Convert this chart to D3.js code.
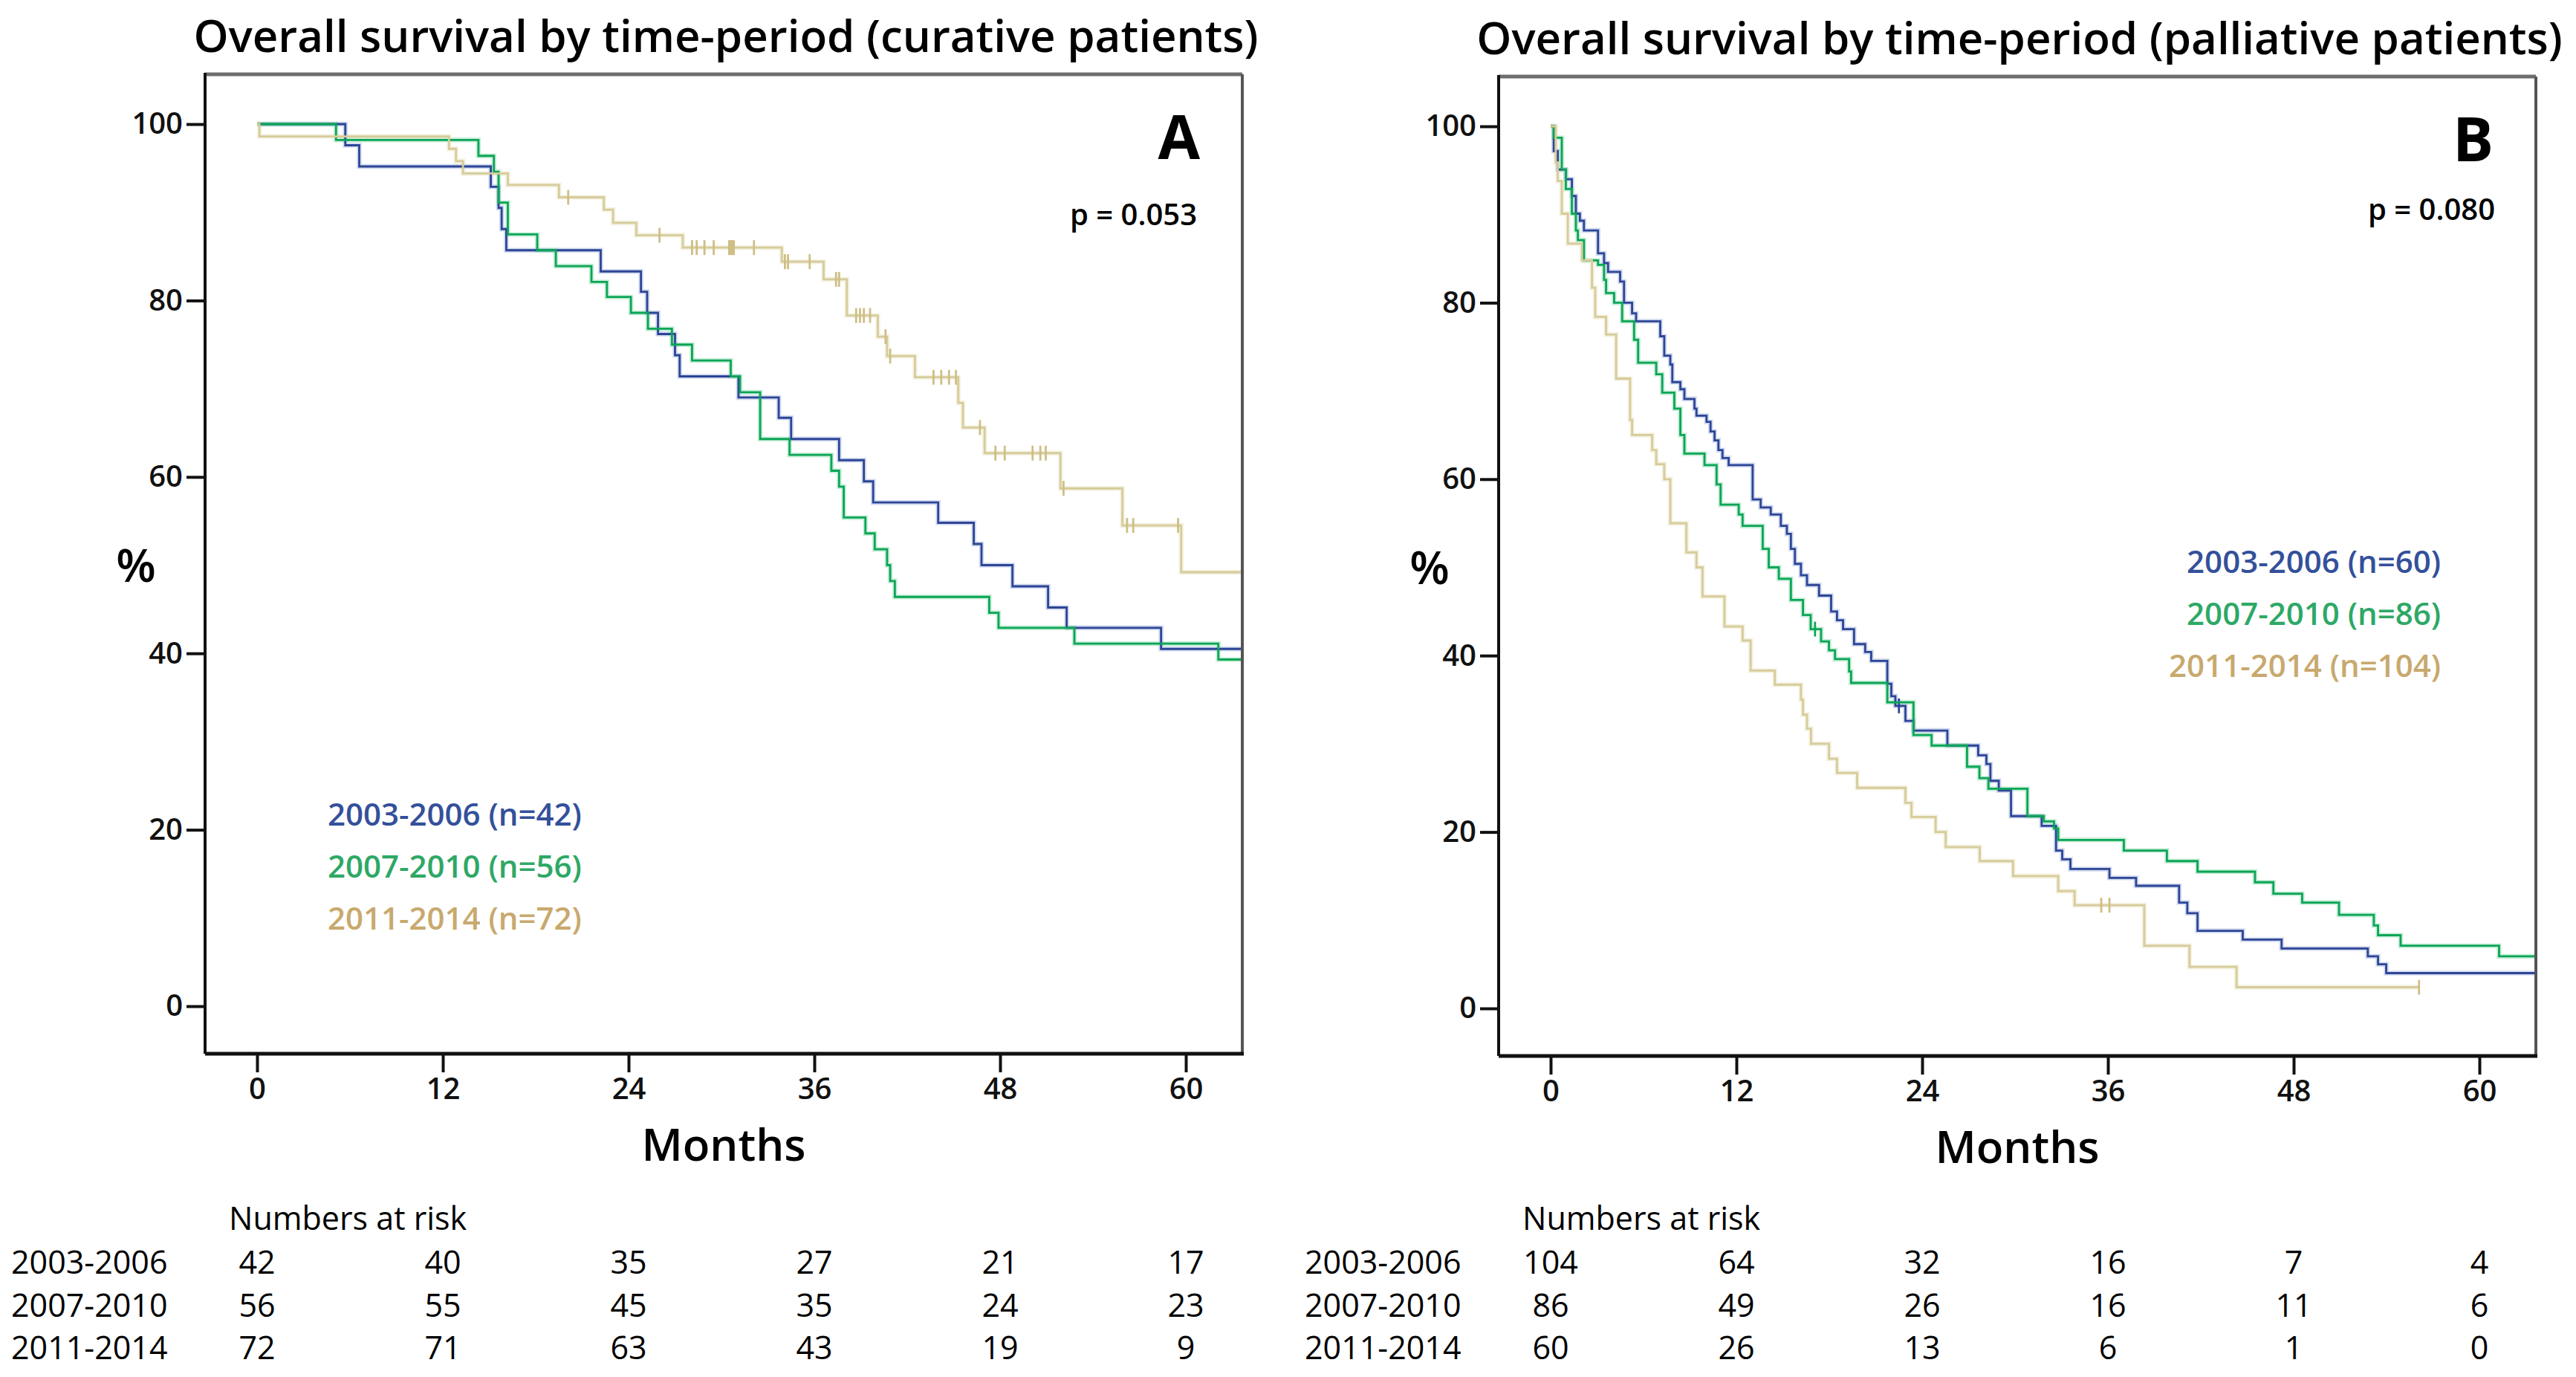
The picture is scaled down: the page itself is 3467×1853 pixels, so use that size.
<!DOCTYPE html>
<html>
<head>
<meta charset="utf-8">
<script src="https://cdn.jsdelivr.net/npm/d3@7"></script>
<style>
  body { margin: 0; background: #fff; }
  text { font-family: "Open Sans", sans-serif; }
</style>
</head>
<body>
<svg id="chart" width="3467" height="1853"></svg>
<script>
// ---- data ----
const monthTicks = [0, 12, 24, 36, 48, 60];
const percentTicks = [0, 20, 40, 60, 80, 100];
const periods = ["2003-2006", "2007-2010", "2011-2014"];

const titleA = "Overall survival by time-period (curative patients)";
const titleB = "Overall survival by time-period (palliative patients)";
const pValueA = "p = 0.053";
const pValueB = "p = 0.080";
const legendA = ["2003-2006 (n=42)", "2007-2010 (n=56)", "2011-2014 (n=72)"];
const legendB = ["2003-2006 (n=60)", "2007-2010 (n=86)", "2011-2014 (n=104)"];

// numbers at risk, one row per period, one value per month tick
const riskA = [[42, 40, 35, 27, 21, 17], [56, 55, 45, 35, 24, 23], [72, 71, 63, 43, 19, 9]];
const riskB = [[104, 64, 32, 16, 7, 4], [86, 49, 26, 16, 11, 6], [60, 26, 13, 6, 1, 0]];

// Kaplan-Meier steps: [month, survival %]
const survA1 = [[0, 100], [5.7, 97.6], [6.6, 95.2], [15.1, 92.9], [15.6, 90.5], [15.8, 88.1], [16.1, 85.7],
  [22.2, 83.3], [24.8, 81.0], [25.2, 78.6], [25.9, 76.2], [27.0, 73.8], [27.3, 71.4], [31.1, 69.0],
  [33.7, 66.7], [34.5, 64.3], [37.6, 61.9], [39.2, 59.5], [39.8, 57.1], [44.0, 54.8], [46.3, 52.4],
  [46.8, 50.0], [48.8, 47.6], [51.1, 45.2], [52.3, 42.9], [58.4, 40.5]];
const survA2 = [[0, 100], [5.1, 98.2], [14.3, 96.4], [15.3, 94.6], [15.6, 91.1], [16.2, 87.5], [18.1, 85.7],
  [19.3, 83.9], [21.6, 82.1], [22.6, 80.4], [24.15, 78.6], [25.25, 76.8], [26.8, 75.0], [28.1, 73.2],
  [30.6, 71.4], [31.2, 69.6], [32.5, 64.3], [34.4, 62.5], [37.1, 60.7], [37.6, 58.9], [37.9, 55.4],
  [39.3, 53.6], [39.9, 51.8], [40.7, 50.0], [40.9, 48.2], [41.2, 46.4], [47.3, 44.6], [47.9, 42.9],
  [52.8, 41.1], [62.1, 39.3]];
const survA3 = [[0, 100], [0.15, 98.6], [12.4, 97.2], [12.85, 95.8], [13.3, 94.4], [16.2, 93.1], [19.5, 91.7],
  [22.4, 90.3], [23.0, 88.8], [24.5, 87.4], [27.5, 86.0], [33.9, 84.4], [36.6, 82.4], [38.1, 78.3],
  [40.1, 75.9], [40.7, 73.7], [42.5, 71.3], [45.3, 68.4], [45.6, 65.6], [47.0, 62.7], [51.9, 58.7],
  [55.9, 54.5], [59.7, 49.2]];
const censA3 = [20.1, 26.0, 28.1, 28.4, 28.9, 29.5, 30.5, 30.6, 30.7, 30.8, 32.1, 34.1, 34.3, 35.7,
  37.4, 37.6, 38.7, 38.95, 39.2, 39.6, 40.6, 40.9, 43.7, 44.2, 44.7, 45.15, 46.7, 47.7, 48.3, 50.1,
  50.6, 50.95, 52.1, 56.2, 56.6, 59.5];

const survB1 = [[0, 100], [0.2, 97.2], [0.46, 95.1], [0.98, 94.0], [1.37, 92.1], [1.63, 90.1], [1.89, 89.3],
  [2.15, 88.2], [3.06, 85.6], [3.45, 84.5], [3.71, 83.5], [4.49, 82.4], [4.74, 80.0], [5.26, 78.8],
  [5.52, 77.9], [7.08, 76.2], [7.34, 74.0], [7.73, 73.0], [7.86, 71.0], [8.38, 70.2], [8.64, 69.1],
  [9.29, 68.0], [9.42, 67.2], [10.07, 66.5], [10.33, 65.4], [10.59, 64.4], [10.84, 63.3], [11.1, 62.4],
  [11.5, 61.6], [13.05, 57.7], [13.57, 56.8], [14.22, 56.0], [14.87, 54.7], [15.26, 53.8], [15.52, 52.1],
  [15.78, 50.4], [16.17, 49.1], [16.56, 48.0], [17.34, 46.8], [18.12, 45.0], [18.5, 44.0], [18.89, 43.0],
  [19.6, 41.3], [20.32, 40.4], [20.71, 39.4], [21.75, 36.8], [22.01, 35.4], [22.27, 34.3], [22.92, 32.6],
  [23.44, 31.5], [25.63, 29.8], [27.62, 28.7], [28.15, 27.7], [28.41, 25.8], [28.95, 24.7], [29.74, 21.8],
  [31.72, 20.7], [32.65, 17.9], [33.05, 16.9], [33.58, 15.8], [36.1, 14.8], [37.82, 13.9], [40.6, 12.0],
  [41.13, 10.8], [41.79, 8.8], [44.71, 7.8], [47.22, 6.8], [52.79, 5.9], [53.45, 5.0], [53.98, 4.0]];
const censB1 = [22.5];
const survB2 = [[0, 100], [0.2, 98.7], [0.72, 95.1], [0.98, 92.9], [1.37, 90.1], [1.63, 88.2], [1.76, 87.1],
  [2.15, 84.8], [3.06, 84.3], [3.45, 82.6], [3.58, 81.1], [4.1, 80.0], [4.62, 77.9], [5.39, 75.8],
  [5.65, 73.2], [6.82, 71.9], [7.21, 69.8], [7.99, 68.0], [8.38, 65.0], [8.64, 62.9], [9.94, 61.6],
  [10.72, 59.4], [10.98, 57.1], [12.15, 56.0], [12.4, 54.7], [13.7, 52.1], [14.09, 50.0], [14.74, 48.7],
  [15.52, 46.3], [16.3, 44.6], [16.8, 43.0], [17.47, 41.6], [17.98, 40.6], [18.37, 39.6], [19.28, 38.2],
  [19.41, 36.9], [21.75, 34.7], [23.44, 31.0], [24.61, 29.8], [26.9, 27.4], [27.7, 26.1], [28.28, 24.9],
  [30.8, 21.8], [31.86, 21.2], [32.52, 20.4], [32.79, 19.1], [37.03, 17.9], [39.81, 16.7], [41.79, 15.5],
  [45.5, 14.3], [46.69, 13.0], [48.55, 12.0], [50.93, 10.6], [53.18, 9.4], [53.45, 8.3], [54.91, 7.1],
  [61.27, 5.9]];
const censB2 = [17.08];
const survB3 = [[0, 100], [0.33, 95.9], [0.46, 93.8], [0.72, 90.1], [1.11, 86.7], [2.02, 84.8], [2.67, 81.7],
  [2.88, 78.4], [3.58, 76.4], [4.23, 71.4], [5.13, 66.7], [5.26, 65.0], [6.56, 63.3], [6.82, 61.7],
  [7.34, 60.0], [7.73, 55.0], [8.77, 51.7], [9.42, 50.0], [9.81, 46.7], [11.23, 43.3], [12.4, 41.7],
  [12.92, 38.3], [14.48, 36.7], [16.17, 35.0], [16.3, 33.3], [16.56, 31.7], [16.82, 30.0], [17.98, 28.3],
  [18.5, 26.7], [19.8, 25.0], [22.92, 23.3], [23.31, 21.7], [24.87, 20.0], [25.52, 18.3], [27.72, 16.7],
  [29.87, 15.0], [32.79, 13.3], [33.85, 11.7], [38.35, 7.1], [41.27, 4.7], [44.31, 2.4]];
const censB3 = [35.57, 36.1, 56.1];

// ---- styles ----
const lineColors = ["#2d4596", "#0ba557", "#d6cc9a"];
const haloColors = ["#9aaedb", "#86d9a8", "#e6dfbd"];
const legendColors = ["#34509a", "#2ea866", "#c8a96e"];

const panels = [
  { dx: 0, dy: 0, title: titleA, letter: "A", pValue: pValueA, pX: 1611, pY: 303,
    curves: [survA1, survA2, survA3], censors: [[], [], censA3], ends: [63.7, 63.7, 63.7],
    legend: legendA, legendX: 441, legendY: 1111, legendAnchor: "start", risk: riskA },
  { dx: 1741, dy: 3, title: titleB, letter: "B", pValue: pValueB, pX: 1617, pY: 293,
    curves: [survB1, survB2, survB3], censors: [censB1, censB2, censB3], ends: [63.6, 63.6, 56.1],
    legend: legendB, legendX: 1544, legendY: 768, legendAnchor: "end", risk: riskB }
];

const svg = d3.select("#chart");
svg.append("rect").attr("width", 3467).attr("height", 1853).attr("fill", "#fff");

// survival value at a given month (for placing censor marks)
const stepValue = (curve, t) => {
  let s = curve[0][1];
  curve.forEach((d) => { if (d[0] <= t) s = d[1]; });
  return s;
};

const drawPanel = (p, idx) => {
  const g = svg.append("g").attr("transform", `translate(${p.dx},${p.dy})`);

  // plot frame
  const box = { left: 276, right: 1672, top: 100, bottom: 1418 };
  const x = d3.scaleLinear().domain([0, 60]).range([346, 1596]);
  const y = d3.scaleLinear().domain([0, 100]).range([1354, 167]);

  g.append("clipPath").attr("id", "clip" + idx)
    .append("rect")
    .attr("x", box.left).attr("y", box.top)
    .attr("width", box.right - box.left).attr("height", box.bottom - box.top);

  // title
  g.append("text")
    .attr("x", 977).attr("y", 70)
    .attr("text-anchor", "middle")
    .attr("font-size", 60).attr("font-weight", 600)
    .text(p.title);

  // curves
  const line = d3.line()
    .x((d) => x(d[0]))
    .y((d) => y(d[1]))
    .curve(d3.curveStepAfter);

  const plot = g.append("g").attr("clip-path", `url(#clip${idx})`);

  p.curves.forEach((curve, i) => {
    const pts = curve.concat([[p.ends[i], curve[curve.length - 1][1]]]);
    plot.append("path")
      .attr("d", line(pts))
      .attr("fill", "none")
      .attr("stroke", haloColors[i])
      .attr("stroke-width", 6.5)
      .attr("opacity", 0.45);
  });
  p.curves.forEach((curve, i) => {
    const pts = curve.concat([[p.ends[i], curve[curve.length - 1][1]]]);
    plot.append("path")
      .attr("d", line(pts))
      .attr("fill", "none")
      .attr("stroke", lineColors[i])
      .attr("stroke-width", 2.8);

    // censor ticks
    plot.selectAll(".cens" + i)
      .data(p.censors[i])
      .enter()
      .append("line")
      .attr("x1", (t) => x(t)).attr("x2", (t) => x(t))
      .attr("y1", (t) => y(stepValue(curve, t)) - 10)
      .attr("y2", (t) => y(stepValue(curve, t)) + 10)
      .attr("stroke", i === 2 ? "#cdbf86" : lineColors[i])
      .attr("stroke-width", 2.8);
  });

  // frame lines: grey top/right, black left/bottom
  g.append("line").attr("x1", box.left).attr("x2", box.right).attr("y1", box.top).attr("y2", box.top)
    .attr("stroke", "#6e6e6e").attr("stroke-width", 5);
  g.append("line").attr("x1", box.right).attr("x2", box.right).attr("y1", box.top).attr("y2", box.bottom)
    .attr("stroke", "#555").attr("stroke-width", 4);
  g.append("line").attr("x1", box.left).attr("x2", box.left).attr("y1", box.top - 2).attr("y2", box.bottom)
    .attr("stroke", "#111").attr("stroke-width", 4);
  g.append("line").attr("x1", box.left).attr("x2", box.right + 2).attr("y1", box.bottom).attr("y2", box.bottom)
    .attr("stroke", "#111").attr("stroke-width", 5);

  // axes
  const yAxis = d3.axisLeft(y).tickValues(percentTicks).tickSize(25).tickPadding(5);
  const xAxis = d3.axisBottom(x).tickValues(monthTicks).tickSize(25).tickPadding(8);

  g.append("g")
    .attr("transform", `translate(${box.left},0)`)
    .call(yAxis)
    .call((a) => a.select(".domain").remove())
    .call((a) => a.selectAll("line").attr("stroke", "#111").attr("stroke-width", 4))
    .call((a) => a.selectAll("text").attr("font-size", 40).attr("font-weight", 600)
      .attr("fill", "#111").attr("font-family", "Open Sans"));

  g.append("g")
    .attr("transform", `translate(0,${box.bottom})`)
    .call(xAxis)
    .call((a) => a.select(".domain").remove())
    .call((a) => a.selectAll("line").attr("stroke", "#111").attr("stroke-width", 4))
    .call((a) => a.selectAll("text").attr("font-size", 40).attr("font-weight", 600)
      .attr("fill", "#111").attr("font-family", "Open Sans"));

  // axis titles
  g.append("text").attr("x", 183).attr("y", 783).attr("text-anchor", "middle")
    .attr("font-size", 62).attr("font-weight", 600).text("%");
  g.append("text").attr("x", 974).attr("y", 1562).attr("text-anchor", "middle")
    .attr("font-size", 60).attr("font-weight", 600).text("Months");

  // panel letter and p-value
  g.append("text").attr("x", 1615).attr("y", 214).attr("text-anchor", "end")
    .attr("font-size", 82).attr("font-weight", 700).text(p.letter);
  g.append("text").attr("x", p.pX).attr("y", p.pY).attr("text-anchor", "end")
    .attr("font-size", 40).attr("font-weight", 600).text(p.pValue);

  // legend
  g.selectAll(".legend")
    .data(p.legend)
    .enter()
    .append("text")
    .attr("x", p.legendX)
    .attr("y", (d, i) => p.legendY + i * 70)
    .attr("text-anchor", p.legendAnchor)
    .attr("font-size", 42).attr("font-weight", 600)
    .attr("fill", (d, i) => legendColors[i])
    .text((d) => d);

  // numbers at risk table
  g.append("text").attr("x", 308).attr("y", 1655 - p.dy)
    .attr("font-size", 43).attr("font-weight", 500).text("Numbers at risk");

  p.risk.forEach((row, r) => {
    const rowY = 1714 + r * 57.5 - p.dy;
    g.append("text").attr("x", 15).attr("y", rowY)
      .attr("font-size", 43).attr("font-weight", 500).text(periods[r]);
    g.selectAll(".risk" + r)
      .data(row)
      .enter()
      .append("text")
      .attr("x", (d, i) => x(monthTicks[i]))
      .attr("y", rowY)
      .attr("text-anchor", "middle")
      .attr("font-size", 43).attr("font-weight", 500)
      .text((d) => d);
  });
};

panels.forEach(drawPanel);
</script>
</body>
</html>
